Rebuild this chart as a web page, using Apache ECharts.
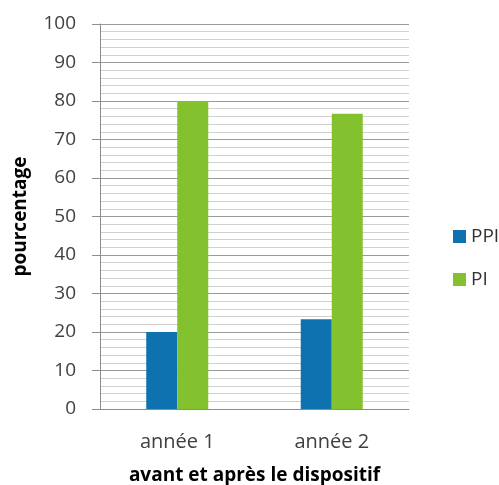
<!DOCTYPE html>
<html><head><meta charset="utf-8">
<script src="https://cdn.jsdelivr.net/npm/echarts@6/dist/echarts.min.js"></script>
<style>html,body{margin:0;padding:0;background:#fff}#c{width:499px;height:485px}</style>
</head><body><div id="c"></div>
<script>
var categories = ['année 1', 'année 2'];
var seriesNames = ['PPI', 'PI'];
var ppiValues = [20, 23.3];
var piValues = [80, 76.7];
var yTicks = [0, 10, 20, 30, 40, 50, 60, 70, 80, 90, 100];

var font = 'Open Sans';
var chart = echarts.init(document.getElementById('c'), null, {renderer: 'canvas'});
chart.setOption({
  animation: false,
  backgroundColor: '#fff',
  grid: {left: 100, right: 90, top: 24, bottom: 76, outerBoundsMode: 'none', containLabel: false},
  legend: {
    data: seriesNames,
    orient: 'vertical',
    left: 448, top: 222,
    itemWidth: 13, itemHeight: 13, itemGap: 24,
    icon: 'rect',
    textStyle: {fontFamily: font, fontSize: 19, color: '#333'}
  },
  xAxis: {
    type: 'category',
    data: categories,
    name: 'avant et après le dispositif',
    nameLocation: 'middle', nameGap: 57,
    nameTextStyle: {fontFamily: font, fontSize: 19, fontWeight: 'bold', color: '#000'},
    axisLine: {lineStyle: {color: '#8c8c8c'}},
    axisTick: {show: false},
    axisLabel: {fontFamily: font, fontSize: 20, color: '#404040', margin: 23}
  },
  yAxis: {
    type: 'value', min: yTicks[0], max: yTicks[yTicks.length - 1], interval: 10,
    name: 'pourcentage',
    nameLocation: 'middle', nameGap: 70, nameRotate: 90,
    nameTextStyle: {fontFamily: font, fontSize: 19, fontWeight: 'bold', color: '#000'},
    axisLine: {show: true, lineStyle: {color: '#8c8c8c'}},
    axisTick: {show: true, length: 8, lineStyle: {color: '#8c8c8c'}},
    axisLabel: {fontFamily: font, fontSize: 19, color: '#404040', margin: 24},
    splitLine: {lineStyle: {color: '#9a9a9a'}},
    minorTick: {show: false, splitNumber: 5},
    minorSplitLine: {show: true, lineStyle: {color: '#d0d0d0'}}
  },
  series: [
    {name: seriesNames[0], type: 'bar', data: ppiValues, barWidth: 31, barGap: '0%',
     itemStyle: {color: '#0f72b0'}},
    {name: seriesNames[1], type: 'bar', data: piValues, barWidth: 31, barGap: '0%',
     itemStyle: {color: '#84c12e'}}
  ]
});
</script></body></html>
